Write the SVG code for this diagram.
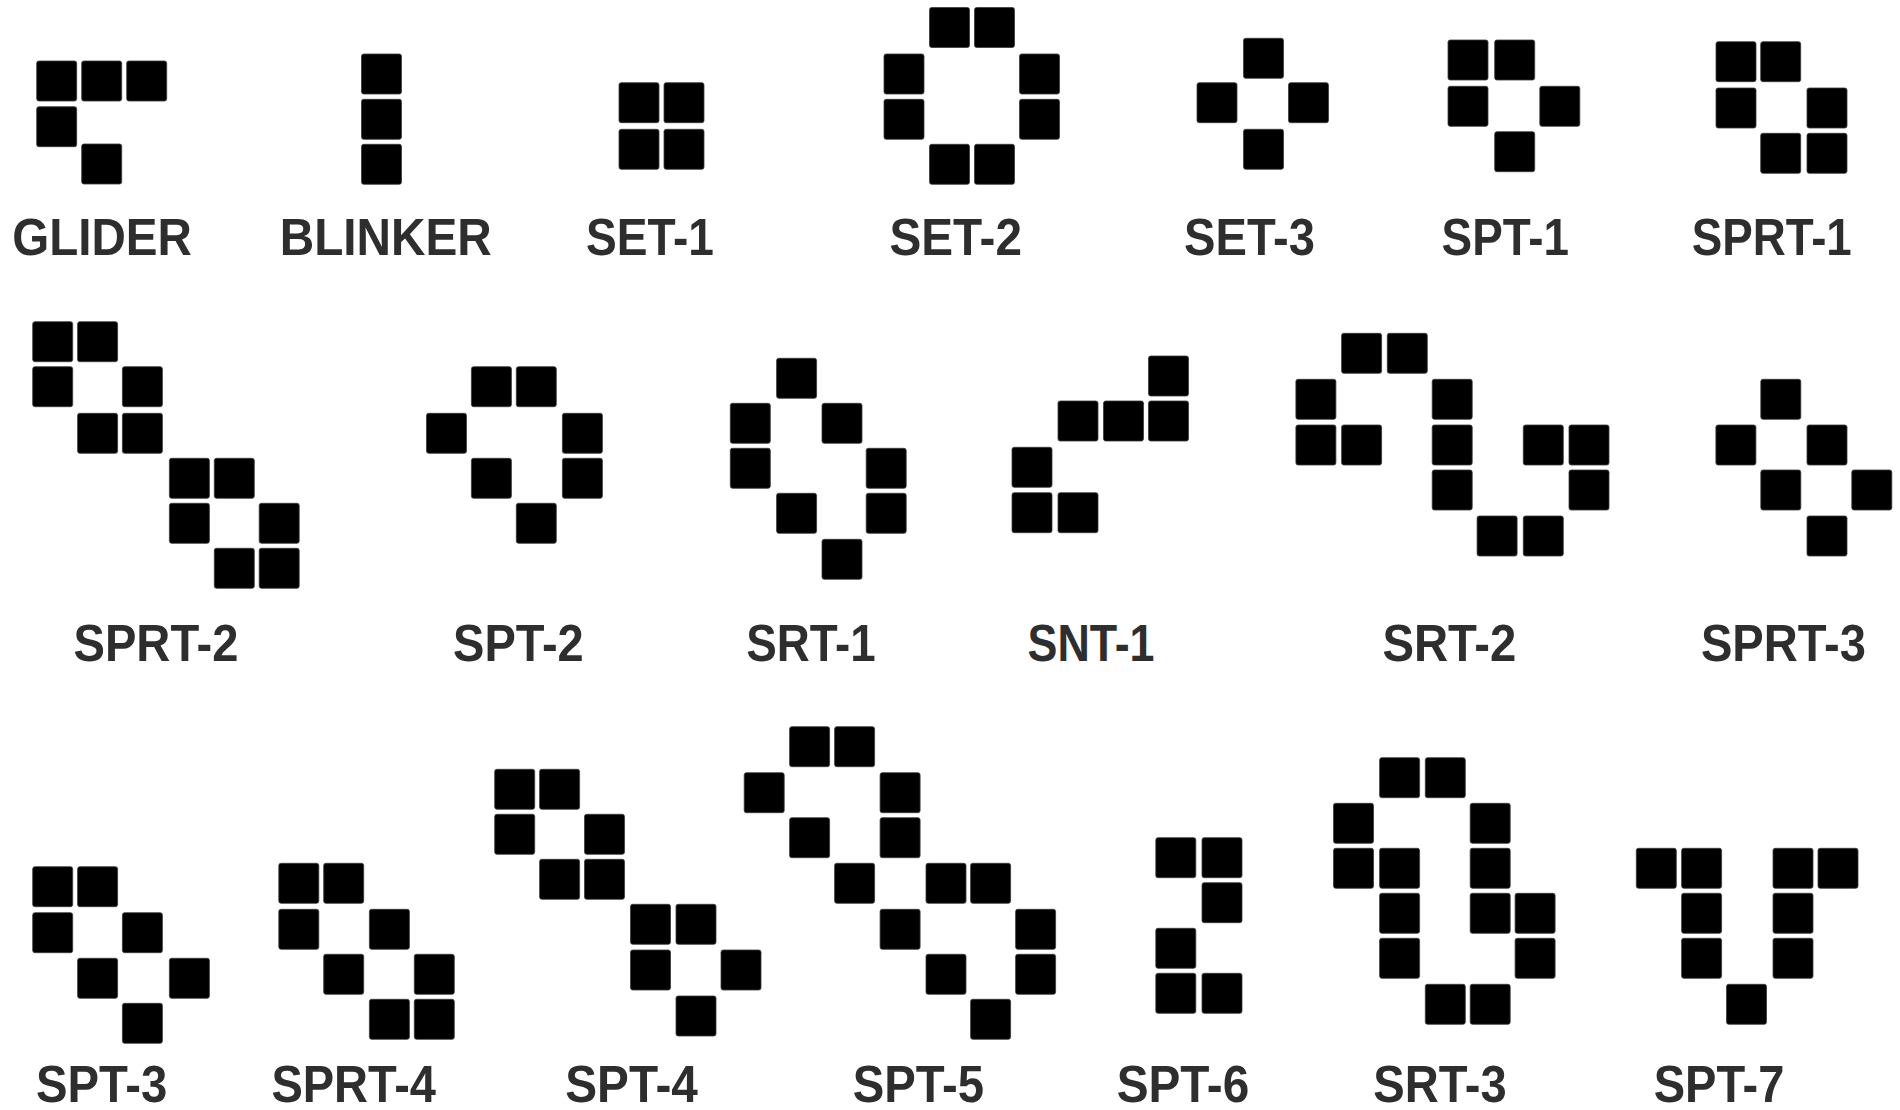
<svg xmlns="http://www.w3.org/2000/svg" width="1900" height="1110" viewBox="0 0 1900 1110">
<style>
.c{fill:#000;stroke:#3a3a3a;stroke-width:0.8;}
.t{font-family:"Liberation Sans",Arial,sans-serif;font-weight:bold;font-size:51px;fill:#2e2e2e;text-anchor:middle;}
</style>
<defs><rect id="k" class="c" width="40" height="40" rx="2.2" ry="2.2"/></defs>
<rect width="1900" height="1110" fill="#fff"/>

<g id="glider">
<use href="#k" x="36.7" y="61"/><use href="#k" x="81.7" y="61"/><use href="#k" x="126.7" y="61"/>
<use href="#k" x="36.7" y="106.7"/><use href="#k" x="81.7" y="144"/>
<text class="t" x="102" y="255" textLength="179.6" lengthAdjust="spacingAndGlyphs">GLIDER</text>
</g>
<g id="blinker">
<use href="#k" x="361.5" y="54"/><use href="#k" x="361.5" y="99.3"/><use href="#k" x="361.5" y="144.3"/>
<text class="t" x="385.7" y="255" textLength="212" lengthAdjust="spacingAndGlyphs">BLINKER</text>
</g>
<g id="set-1">
<use href="#k" x="619" y="82.7"/><use href="#k" x="664" y="82.7"/>
<use href="#k" x="619" y="129.3"/><use href="#k" x="664" y="129.3"/>
<text class="t" x="650" y="255" textLength="128" lengthAdjust="spacingAndGlyphs">SET-1</text>
</g>
<g id="set-2">
<use href="#k" x="929.5" y="7.5"/><use href="#k" x="974.5" y="7.5"/>
<use href="#k" x="884" y="54"/><use href="#k" x="1019.5" y="54"/>
<use href="#k" x="884" y="99.3"/><use href="#k" x="1019.5" y="99.3"/>
<use href="#k" x="929.5" y="144.3"/><use href="#k" x="974.5" y="144.3"/>
<text class="t" x="955.7" y="255" textLength="132.6" lengthAdjust="spacingAndGlyphs">SET-2</text>
</g>
<g id="set-3">
<use href="#k" x="1243.5" y="38.3"/><use href="#k" x="1197" y="82.7"/><use href="#k" x="1288.5" y="82.7"/><use href="#k" x="1243.5" y="129.3"/>
<text class="t" x="1249.5" y="255" textLength="131" lengthAdjust="spacingAndGlyphs">SET-3</text>
</g>
<g id="spt-1">
<use href="#k" x="1448" y="40"/><use href="#k" x="1494.7" y="40"/>
<use href="#k" x="1448" y="86.3"/><use href="#k" x="1539.8" y="86.3"/>
<use href="#k" x="1494.7" y="131.7"/>
<text class="t" x="1505.3" y="255" textLength="127.4" lengthAdjust="spacingAndGlyphs">SPT-1</text>
</g>
<g id="sprt-1">
<use href="#k" x="1716" y="41.7"/><use href="#k" x="1760.7" y="41.7"/>
<use href="#k" x="1716" y="88"/><use href="#k" x="1807" y="88"/>
<use href="#k" x="1760.7" y="133.3"/><use href="#k" x="1807" y="133.3"/>
<text class="t" x="1771.8" y="255" textLength="160" lengthAdjust="spacingAndGlyphs">SPRT-1</text>
</g>

<g id="sprt-2">
<use href="#k" x="32.7" y="321.7"/><use href="#k" x="77.6" y="321.7"/>
<use href="#k" x="32.7" y="366.7"/><use href="#k" x="122.4" y="366.7"/>
<use href="#k" x="77.6" y="413.3"/><use href="#k" x="122.4" y="413.3"/>
<use href="#k" x="169.4" y="458.3"/><use href="#k" x="214.3" y="458.3"/>
<use href="#k" x="169.4" y="503.3"/><use href="#k" x="259.2" y="503.3"/>
<use href="#k" x="214.3" y="548.3"/><use href="#k" x="259.2" y="548.3"/>
<text class="t" x="156" y="661" textLength="165" lengthAdjust="spacingAndGlyphs">SPRT-2</text>
</g>
<g id="spt-2">
<use href="#k" x="471.4" y="366.7"/><use href="#k" x="516.3" y="366.7"/>
<use href="#k" x="426.5" y="413.3"/><use href="#k" x="562.4" y="413.3"/>
<use href="#k" x="471.4" y="458.3"/><use href="#k" x="562.4" y="458.3"/>
<use href="#k" x="516.3" y="503.3"/>
<text class="t" x="518.4" y="661" textLength="130.7" lengthAdjust="spacingAndGlyphs">SPT-2</text>
</g>
<g id="srt-1">
<use href="#k" x="776.6" y="358.3"/>
<use href="#k" x="730.3" y="403.3"/><use href="#k" x="822" y="403.3"/>
<use href="#k" x="730.3" y="448.3"/><use href="#k" x="866.2" y="448.3"/>
<use href="#k" x="776.6" y="493.3"/><use href="#k" x="866.2" y="493.3"/>
<use href="#k" x="822" y="539.3"/>
<text class="t" x="811" y="661" textLength="129.6" lengthAdjust="spacingAndGlyphs">SRT-1</text>
</g>
<g id="snt-1">
<use href="#k" x="1148.5" y="356"/>
<use href="#k" x="1058" y="401"/><use href="#k" x="1103.5" y="401"/><use href="#k" x="1148.5" y="401"/>
<use href="#k" x="1012" y="447.3"/>
<use href="#k" x="1012" y="492.7"/><use href="#k" x="1058" y="492.7"/>
<text class="t" x="1091" y="661" textLength="127" lengthAdjust="spacingAndGlyphs">SNT-1</text>
</g>
<g id="srt-2">
<use href="#k" x="1341.6" y="333.3"/><use href="#k" x="1387.3" y="333.3"/>
<use href="#k" x="1295.9" y="379.3"/><use href="#k" x="1432.2" y="379.3"/>
<use href="#k" x="1295.9" y="425"/><use href="#k" x="1341.6" y="425"/><use href="#k" x="1432.2" y="425"/><use href="#k" x="1523.3" y="425"/><use href="#k" x="1569" y="425"/>
<use href="#k" x="1432.2" y="470"/><use href="#k" x="1569" y="470"/>
<use href="#k" x="1477.1" y="516"/><use href="#k" x="1523.3" y="516"/>
<text class="t" x="1449.4" y="661" textLength="134" lengthAdjust="spacingAndGlyphs">SRT-2</text>
</g>
<g id="sprt-3">
<use href="#k" x="1760.8" y="379.3"/>
<use href="#k" x="1715.9" y="425"/><use href="#k" x="1807" y="425"/>
<use href="#k" x="1760.8" y="470"/><use href="#k" x="1851.8" y="470"/>
<use href="#k" x="1807" y="516"/>
<text class="t" x="1783.4" y="661" textLength="165" lengthAdjust="spacingAndGlyphs">SPRT-3</text>
</g>

<g id="spt-3">
<use href="#k" x="32.7" y="866.7"/><use href="#k" x="77.6" y="866.7"/>
<use href="#k" x="32.7" y="912.7"/><use href="#k" x="122.4" y="912.7"/>
<use href="#k" x="77.6" y="958.3"/><use href="#k" x="169.4" y="958.3"/>
<use href="#k" x="122.4" y="1003.3"/>
<text class="t" x="101.6" y="1102" textLength="131.4" lengthAdjust="spacingAndGlyphs">SPT-3</text>
</g>
<g id="sprt-4">
<use href="#k" x="278.8" y="863.3"/><use href="#k" x="323.7" y="863.3"/>
<use href="#k" x="278.8" y="909.3"/><use href="#k" x="369.4" y="909.3"/>
<use href="#k" x="323.7" y="954.3"/><use href="#k" x="414.3" y="954.3"/>
<use href="#k" x="369.4" y="999.3"/><use href="#k" x="414.3" y="999.3"/>
<text class="t" x="353.7" y="1102" textLength="164.6" lengthAdjust="spacingAndGlyphs">SPRT-4</text>
</g>
<g id="spt-4">
<use href="#k" x="494.7" y="769.3"/><use href="#k" x="539.6" y="769.3"/>
<use href="#k" x="494.7" y="814.3"/><use href="#k" x="584.5" y="814.3"/>
<use href="#k" x="539.6" y="859.3"/><use href="#k" x="584.5" y="859.3"/>
<use href="#k" x="630.5" y="904.3"/><use href="#k" x="676" y="904.3"/>
<use href="#k" x="630.5" y="950"/><use href="#k" x="721" y="950"/>
<use href="#k" x="676" y="996"/>
<text class="t" x="631.6" y="1102" textLength="132.6" lengthAdjust="spacingAndGlyphs">SPT-4</text>
</g>
<g id="spt-5">
<use href="#k" x="789.6" y="726.7"/><use href="#k" x="834.6" y="726.7"/>
<use href="#k" x="744.2" y="772.7"/><use href="#k" x="880.1" y="772.7"/>
<use href="#k" x="789.6" y="817.7"/><use href="#k" x="880.1" y="817.7"/>
<use href="#k" x="834.6" y="863.3"/><use href="#k" x="926" y="863.3"/><use href="#k" x="970.6" y="863.3"/>
<use href="#k" x="880.1" y="909.3"/><use href="#k" x="1015.6" y="909.3"/>
<use href="#k" x="926" y="954.3"/><use href="#k" x="1015.6" y="954.3"/>
<use href="#k" x="970.6" y="999.3"/>
<text class="t" x="918.4" y="1102" textLength="131.3" lengthAdjust="spacingAndGlyphs">SPT-5</text>
</g>
<g id="spt-6">
<use href="#k" x="1155.8" y="837.7"/><use href="#k" x="1202" y="837.7"/>
<use href="#k" x="1202" y="882.7"/>
<use href="#k" x="1155.8" y="928.3"/>
<use href="#k" x="1155.8" y="973.3"/><use href="#k" x="1202" y="973.3"/>
<text class="t" x="1183" y="1102" textLength="132.6" lengthAdjust="spacingAndGlyphs">SPT-6</text>
</g>
<g id="srt-3">
<use href="#k" x="1379.6" y="757.7"/><use href="#k" x="1425.3" y="757.7"/>
<use href="#k" x="1333.5" y="803.3"/><use href="#k" x="1470.2" y="803.3"/>
<use href="#k" x="1333.5" y="848.3"/><use href="#k" x="1379.6" y="848.3"/><use href="#k" x="1470.2" y="848.3"/>
<use href="#k" x="1379.6" y="893.3"/><use href="#k" x="1470.2" y="893.3"/><use href="#k" x="1515.1" y="893.3"/>
<use href="#k" x="1379.6" y="938.3"/><use href="#k" x="1515.1" y="938.3"/>
<use href="#k" x="1425.3" y="984.3"/><use href="#k" x="1470.2" y="984.3"/>
<text class="t" x="1440" y="1102" textLength="133.5" lengthAdjust="spacingAndGlyphs">SRT-3</text>
</g>
<g id="spt-7">
<use href="#k" x="1636.3" y="848.3"/><use href="#k" x="1681.6" y="848.3"/><use href="#k" x="1773" y="848.3"/><use href="#k" x="1818" y="848.3"/>
<use href="#k" x="1681.6" y="893.3"/><use href="#k" x="1773" y="893.3"/>
<use href="#k" x="1681.6" y="938.3"/><use href="#k" x="1773" y="938.3"/>
<use href="#k" x="1726.5" y="984.3"/>
<text class="t" x="1719" y="1102" textLength="130.6" lengthAdjust="spacingAndGlyphs">SPT-7</text>
</g>
</svg>
